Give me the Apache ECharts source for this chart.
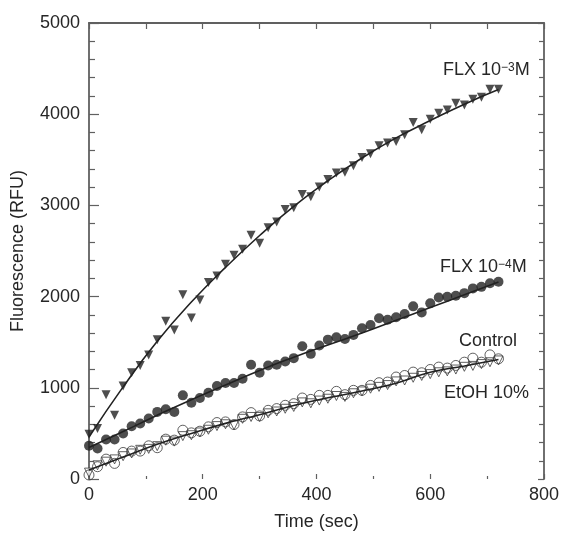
<!DOCTYPE html>
<html>
<head>
<meta charset="utf-8">
<script src="https://cdn.jsdelivr.net/npm/echarts@6/dist/echarts.min.js"></script>
<style>
html,body{margin:0;padding:0;background:#fff;}
#chart{width:562px;height:536px;}
</style>
</head>
<body>
<div id="chart"></div>
<script>
// ---------- data ----------
var times = [0,15,30,45,60,75,90,105,120,135,150,165,180,195,210,225,240,255,270,285,300,315,330,345,360,375,390,405,420,435,450,465,480,495,510,525,540,555,570,585,600,615,630,645,660,675,690,705,720];

var flx3 = [491,553,925,699,1020,1165,1245,1361,1528,1729,1634,2020,1765,1962,2155,2227,2355,2453,2519,2672,2584,2755,2817,2955,2973,3119,3094,3203,3283,3356,3363,3436,3526,3567,3654,3683,3701,3774,3908,3829,3945,4011,4047,4120,4101,4164,4186,4273,4273];

var flx4 = [364,335,433,433,499,579,608,663,736,764,736,917,837,888,946,1020,1052,1052,1099,1252,1165,1245,1252,1288,1325,1456,1372,1463,1528,1554,1536,1580,1653,1689,1762,1747,1773,1809,1893,1827,1926,1991,1998,2009,2038,2090,2107,2147,2162];

var control = [44,135,218,171,291,306,306,364,343,437,426,535,506,524,572,619,626,597,681,728,692,753,772,808,826,888,873,917,917,961,925,972,972,1026,1056,1063,1118,1135,1172,1165,1201,1227,1216,1245,1281,1325,1281,1361,1318];

var etoh = [70,150,190,215,250,280,320,330,360,420,410,470,480,510,540,580,600,590,660,680,680,720,740,770,790,840,830,860,880,910,900,940,960,990,1010,1030,1070,1080,1110,1130,1150,1170,1180,1200,1230,1240,1260,1280,1300];

// fitted curves (read at sample times)
var fitTimes = [0,60,120,180,240,300,360,420,480,540,600,660,720];
var fitFlx3 = [460,1010,1510,1940,2320,2670,2990,3270,3520,3740,3930,4110,4270];
var fitFlx4 = [345,520,700,870,1030,1190,1335,1470,1600,1740,1880,2020,2160];
var fitCtrl = [100,240,380,500,610,705,805,890,965,1050,1170,1240,1310];

var xTicks = [0,200,400,600,800];
var yTicks = [0,1000,2000,3000,4000,5000];

// ---------- helpers ----------
function pairs(xs, ys){ return xs.map(function(x,i){ return [x, ys[i]]; }); }
function plain(v){ return String(v); }

var FONT = 'Liberation Sans, Arial, sans-serif';
var TXT = '#262626';
var AX = '#606060';
var INK = '#222';

var chart = echarts.init(document.getElementById('chart'), null, {renderer:'canvas'});

var option = {
  animation: false,
  backgroundColor: '#fff',
  textStyle: {fontFamily: FONT},
  grid: {left: 89, right: 16, top: 23, bottom: 55},
  xAxis: [{
    type: 'value', position: 'bottom',
    min: xTicks[0], max: xTicks[xTicks.length-1], interval: 200,
    name: 'Time (sec)', nameLocation: 'middle', nameGap: 34,
    nameTextStyle: {fontSize: 18, color: TXT, fontFamily: FONT},
    axisLine: {show: false, onZero: false},
    axisTick: {show: true, inside: true, length: 5, lineStyle: {color: AX, width: 1.2}},
    minorTick: {show: true, splitNumber: 2, length: 3, lineStyle: {color: AX, width: 1.2}},
    axisLabel: {fontSize: 18, color: TXT, margin: 7, fontFamily: FONT, formatter: plain},
    splitLine: {show: false}
  },{
    type: 'value', position: 'top',
    min: 0, max: 800, interval: 200,
    axisLine: {show: true, onZero: false, lineStyle: {color: AX, width: 1.8}},
    axisTick: {show: true, inside: true, length: 6, lineStyle: {color: AX, width: 1.2}},
    minorTick: {show: true, splitNumber: 2, length: 6, lineStyle: {color: AX, width: 1.2}},
    axisLabel: {show: false},
    splitLine: {show: false}
  }],
  yAxis: [{
    type: 'value', position: 'left',
    min: yTicks[0], max: yTicks[yTicks.length-1], interval: 1000,
    name: 'Fluorescence (RFU)', nameLocation: 'middle', nameGap: 62,
    nameTextStyle: {fontSize: 18, color: TXT, fontFamily: FONT},
    axisLine: {show: true, onZero: false, lineStyle: {color: AX, width: 1.8}},
    axisTick: {show: true, inside: true, length: 10, lineStyle: {color: AX, width: 1.2}},
    minorTick: {show: true, splitNumber: 5, length: 6, lineStyle: {color: AX, width: 1.2}},
    axisLabel: {fontSize: 18, color: TXT, margin: 9, fontFamily: FONT, formatter: plain},
    splitLine: {show: false}
  },{
    type: 'value', position: 'right',
    min: 0, max: 5000, interval: 1000,
    axisLine: {show: true, onZero: false, lineStyle: {color: AX, width: 1.8}},
    axisTick: {show: true, inside: true, length: 6, lineStyle: {color: AX, width: 1.2}},
    minorTick: {show: true, splitNumber: 5, length: 5, lineStyle: {color: AX, width: 1.2}},
    axisLabel: {show: false},
    splitLine: {show: false}
  }],
  series: [
    {name:'EtOH 10%', type:'scatter', data: pairs(times, etoh), symbol:'triangle', symbolRotate:180, symbolSize:9,
     itemStyle:{color:'#fff', borderColor:'#3a3a3a', borderWidth:1}, z:2},
    {name:'Control', type:'scatter', data: pairs(times, control), symbol:'circle', symbolSize:10,
     itemStyle:{color:'rgba(255,255,255,0)', borderColor:'#3a3a3a', borderWidth:1}, z:3},
    {name:'FLX 1e-4', type:'scatter', data: pairs(times, flx4), symbol:'circle', symbolSize:10,
     itemStyle:{color:INK}, z:3},
    {name:'FLX 1e-3', type:'scatter', data: pairs(times, flx3), symbol:'triangle', symbolRotate:180, symbolSize:9,
     itemStyle:{color:INK}, z:3},
    {name:'fit FLX 1e-3', type:'line', data: pairs(fitTimes, fitFlx3), smooth:true, showSymbol:false,
     lineStyle:{color:INK, width:1.6}, z:4},
    {name:'fit FLX 1e-4', type:'line', data: pairs(fitTimes, fitFlx4), smooth:true, showSymbol:false,
     lineStyle:{color:INK, width:1.6}, z:4},
    {name:'fit Control', type:'line', data: pairs(fitTimes, fitCtrl), smooth:true, showSymbol:false,
     lineStyle:{color:INK, width:1.6}, z:4}
  ],
  graphic: [
    {type:'text', x:443, y:70.5, z:10, style:{
      text:'{n|FLX 10}{s|−3}{n|M}', textVerticalAlign:'middle', textAlign:'left', fill:TXT,
      rich:{n:{fontSize:18, fontFamily:FONT, fill:TXT, color:TXT}, s:{fontSize:12, fontFamily:FONT, verticalAlign:'top', fill:TXT, color:TXT}}}},
    {type:'text', x:440, y:267.5, z:10, style:{
      text:'{n|FLX 10}{s|−4}{n|M}', textVerticalAlign:'middle', textAlign:'left', fill:TXT,
      rich:{n:{fontSize:18, fontFamily:FONT, fill:TXT, color:TXT}, s:{fontSize:12, fontFamily:FONT, verticalAlign:'top', fill:TXT, color:TXT}}}},
    {type:'text', x:459, y:341, z:10, style:{text:'Control', font:'18px ' + FONT, fill:TXT, textVerticalAlign:'middle'}},
    {type:'text', x:444, y:393, z:10, style:{text:'EtOH 10%', font:'18px ' + FONT, fill:TXT, textVerticalAlign:'middle'}}
  ]
};
chart.setOption(option);
</script>
</body>
</html>
